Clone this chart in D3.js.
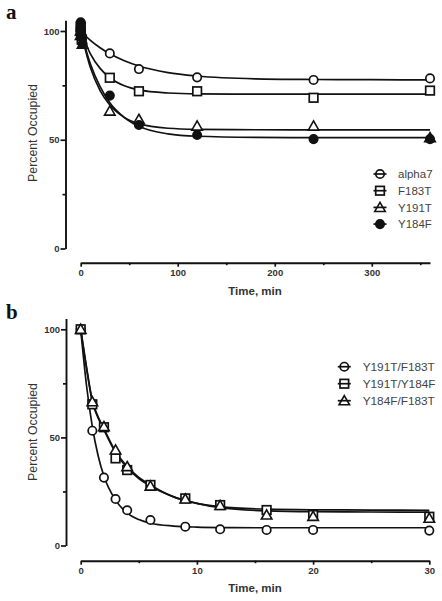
<!DOCTYPE html>
<html>
<head>
<meta charset="utf-8">
<script src="https://cdn.jsdelivr.net/npm/d3@7"></script>
<style>
  html, body { margin: 0; padding: 0; background: #fff; }
  svg { display: block; font-family: "Liberation Sans", Arial, sans-serif; }
</style>
</head>
<body>
<svg id="chart" width="442" height="601"></svg>
<script>
// ---------- Panel a data ----------
const seriesNamesA = ["alpha7", "F183T", "Y191T", "Y184F"];
const alpha7Points = [[0,100],[0,103],[1,97],[30,89.7],[60,82.5],[120,78.7],[240,77.5],[360,78.2]];
const f183tPoints  = [[0,100],[0,102],[1,96],[30,78.5],[60,72.3],[120,72.3],[240,69.3],[360,72.6]];
const y191tPoints  = [[0,100],[0,98],[2,94],[30,63.2],[60,59.4],[120,56.3],[240,56.3],[360,51]];
const y184fPoints  = [[0,100],[0,104],[0,101],[1,97],[2,94],[0,98],[30,70.3],[60,56.8],[120,52.2],[240,50.3],[360,50.3]];
const curveTimesA  = [0, 10, 20, 30, 45, 60, 90, 120, 180, 240, 300, 360];
const alpha7Curve  = [100, 95.7, 92.3, 89.5, 86.3, 83.9, 80.9, 79.3, 78.0, 77.7, 77.6, 77.5];
const f183tCurve   = [100, 89.5, 82.8, 78.5, 74.8, 72.9, 71.5, 71.1, 71.0, 71.0, 71.0, 71.0];
const y191tCurve   = [100, 83.2, 72.6, 66.0, 60.3, 57.4, 55.3, 54.8, 54.6, 54.5, 54.5, 54.5];
const y184fCurve   = [100, 84.8, 74.4, 67.0, 60.2, 56.2, 52.7, 51.6, 51.1, 51.0, 51.0, 51.0];
const yTicksA = [0, 50, 100];
const yMinorTicksA = [25, 75];
const xTicksA = [0, 100, 200, 300];
const xMinorTicksA = [50, 150, 250, 350];

// ---------- Panel b data ----------
const seriesNamesB = ["Y191T/F183T", "Y191T/Y184F", "Y184F/F183T"];
const timesB = [0, 1, 2, 3, 4, 6, 9, 12, 16, 20, 30];
const y191tF183tValues = [100, 53.1, 31.4, 21.5, 16.3, 11.8, 8.7, 7.5, 7.2, 7.2, 6.9];
const y191tY184fValues = [100, 65.3, 54.7, 40.3, 34.9, 28.0, 21.8, 18.7, 16.4, 14.1, 13.3];
const y184fF183tValues = [100, 66.5, 55.0, 44.2, 36.5, 27.5, 21.5, 18.5, 14.1, 13.5, 12.6];
const curveTimesB = [0, 0.5, 1, 1.5, 2, 3, 4, 5, 6, 8, 10, 12, 16, 20, 25, 30];
const y191tF183tCurve = [100, 74, 55, 41.5, 32, 21, 15, 12, 10.3, 9, 8.5, 8.3, 8.2, 8.2, 8.2, 8.2];
const y191tY184fCurve = [100, 82, 66.5, 59, 53.5, 43, 36, 31, 27.5, 22.5, 19.5, 18, 16.8, 16.5, 16.4, 16.3];
const y184fF183tCurve = [100, 82.5, 67, 59.5, 54, 43.5, 36.5, 31.5, 28, 22.5, 19.5, 17.5, 16, 15.6, 15.5, 15.4];
const yTicksB = [0, 50, 100];
const yMinorTicksB = [25, 75];
const xTicksB = [0, 10, 20, 30];
const xMinorTicksB = [5, 15, 25];

const svg = d3.select("#chart");
const INK = "#111";
const TXT = "#333";
const SANS = "'Liberation Sans', Arial, sans-serif";

function marker(g, type, cx, cy) {
  if (type === "circle" || type === "filled") {
    g.append("circle").attr("cx", cx).attr("cy", cy).attr("r", 4.2)
      .attr("fill", type === "filled" ? INK : "#fff").attr("stroke", INK).attr("stroke-width", 1.7);
  } else if (type === "square") {
    g.append("rect").attr("x", cx - 4.3).attr("y", cy - 4.3).attr("width", 8.6).attr("height", 8.6)
      .attr("fill", "#fff").attr("stroke", INK).attr("stroke-width", 1.7);
  } else if (type === "triangle") {
    g.append("path").attr("d", d3.symbol().type(d3.symbolTriangle).size(48)())
      .attr("transform", `translate(${cx},${cy + 1})`)
      .attr("fill", "#fff").attr("stroke", INK).attr("stroke-width", 1.6);
  }
}

function drawPanel(cfg) {
  const g = svg.append("g");
  const x = d3.scaleLinear().domain(cfg.xDomain).range(cfg.xRange);
  const y = d3.scaleLinear().domain([0, 105]).range([cfg.y0, cfg.y0 - 105 * cfg.pxPerUnit]);

  // Y axis
  g.append("g").attr("transform", `translate(${cfg.yAxisX},0)`)
    .call(d3.axisLeft(y).tickValues(cfg.yTicks).tickSize(5).tickSizeOuter(0).tickPadding(1).tickFormat(d3.format("d")));
  g.append("g").attr("transform", `translate(${cfg.yAxisX},0)`)
    .call(d3.axisLeft(y).tickValues(cfg.yMinor).tickSize(3).tickSizeOuter(0).tickFormat(""))
    .select(".domain").remove();
  // X axis
  g.append("g").attr("transform", `translate(0,${cfg.xAxisY})`)
    .call(d3.axisBottom(x).tickValues(cfg.xTicks).tickSize(4).tickSizeOuter(0).tickPadding(3).tickFormat(d3.format("d")));
  g.append("g").attr("transform", `translate(0,${cfg.xAxisY})`)
    .call(d3.axisBottom(x).tickValues(cfg.xMinor).tickSize(2.5).tickSizeOuter(0).tickFormat(""))
    .select(".domain").remove();

  g.selectAll(".domain").attr("stroke", INK).attr("stroke-width", 1.9);
  g.selectAll(".tick line").attr("stroke", INK).attr("stroke-width", 1.7);
  g.selectAll(".tick text").attr("fill", TXT).attr("font-size", 9.5).attr("font-weight", "bold")
    .attr("font-family", SANS);

  // axis titles
  g.append("text").attr("x", 255).attr("y", cfg.xTitleY).attr("text-anchor", "middle")
    .attr("font-family", SANS).attr("font-size", 11.5).attr("font-weight", "bold").attr("fill", TXT).text("Time, min");
  g.append("text").attr("transform", `translate(37,${cfg.yTitleY}) rotate(-90)`)
    .attr("font-family", SANS).attr("text-anchor", "middle").attr("font-size", 12.3).attr("fill", TXT).text("Percent Occupied");
  // panel letter
  g.append("text").attr("x", 6).attr("y", cfg.letterY)
    .style("font-family", "'Liberation Serif', 'Times New Roman', serif")
    .attr("font-weight", "bold").attr("font-size", 21).attr("fill", INK).text(cfg.letter);

  const line = d3.line().x(d => x(d[0])).y(d => y(d[1])).curve(d3.curveMonotoneX);
  cfg.series.forEach(s => {
    g.append("path").datum(s.curveT.map((t, i) => [t, s.curveV[i]]))
      .attr("d", line).attr("fill", "none").attr("stroke", INK).attr("stroke-width", 1.7);
  });
  cfg.series.forEach(s => {
    const mg = g.append("g");
    s.points.forEach(p => marker(mg, s.type, x(p[0]), y(p[1])));
  });

  // legend (line drawn through the marker)
  const lg = g.append("g");
  cfg.series.forEach((s, i) => {
    const ly = cfg.legendY + i * cfg.legendStep;
    marker(lg, s.type, cfg.legendX, ly);
    lg.append("line").attr("x1", cfg.legendX - 6.5).attr("x2", cfg.legendX + 6.5)
      .attr("y1", ly).attr("y2", ly).attr("stroke", INK).attr("stroke-width", 1.7);
    lg.append("text").attr("x", cfg.legendX + cfg.legendTextDx).attr("y", ly + 4.3)
      .attr("font-family", SANS).attr("font-size", cfg.legendFont).attr("fill", "#444").text(s.name);
  });
}

drawPanel({
  letter: "a", letterY: 19,
  xDomain: [0, 360], xRange: [80.7, 430],
  y0: 248.5, pxPerUnit: 2.175, yAxisX: 65.5, xAxisY: 262.7,
  yTicks: yTicksA, yMinor: yMinorTicksA, xTicks: xTicksA, xMinor: xMinorTicksA,
  xTitleY: 295, yTitleY: 133,
  legendX: 380, legendY: 174, legendStep: 16.7, legendTextDx: 18, legendFont: 11.5,
  series: [
    {name: seriesNamesA[0], type: "circle",   points: alpha7Points, curveT: curveTimesA, curveV: alpha7Curve},
    {name: seriesNamesA[1], type: "square",   points: f183tPoints,  curveT: curveTimesA, curveV: f183tCurve},
    {name: seriesNamesA[2], type: "triangle", points: y191tPoints,  curveT: curveTimesA, curveV: y191tCurve},
    {name: seriesNamesA[3], type: "filled",   points: y184fPoints,  curveT: curveTimesA, curveV: y184fCurve}
  ]
});

drawPanel({
  letter: "b", letterY: 319,
  xDomain: [0, 30], xRange: [80.7, 429.3],
  y0: 545.5, pxPerUnit: 2.162, yAxisX: 66, xAxisY: 560.7,
  yTicks: yTicksB, yMinor: yMinorTicksB, xTicks: xTicksB, xMinor: xMinorTicksB,
  xTitleY: 592, yTitleY: 432,
  legendX: 344.3, legendY: 366.7, legendStep: 17, legendTextDx: 18.4, legendFont: 11.8,
  series: [
    {name: seriesNamesB[0], type: "circle",   points: timesB.map((t, i) => [t, y191tF183tValues[i]]), curveT: curveTimesB, curveV: y191tF183tCurve},
    {name: seriesNamesB[1], type: "square",   points: timesB.map((t, i) => [t, y191tY184fValues[i]]), curveT: curveTimesB, curveV: y191tY184fCurve},
    {name: seriesNamesB[2], type: "triangle", points: timesB.map((t, i) => [t, y184fF183tValues[i]]), curveT: curveTimesB, curveV: y184fF183tCurve}
  ]
});
</script>
</body>
</html>
